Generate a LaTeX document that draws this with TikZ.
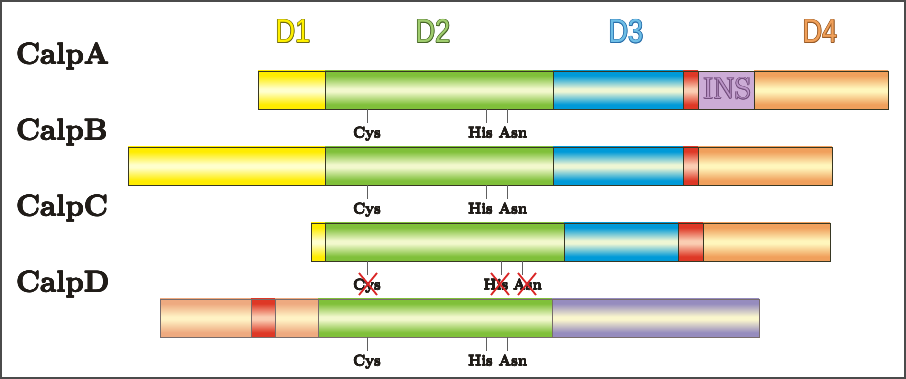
\documentclass[tikz,border=0pt]{standalone}
\usepackage{fontspec}
\usepackage{graphicx}
\newfontfamily\dfont{Liberation Sans}
\definecolor{ylw}{RGB}{255,236,0}
\definecolor{ylwL}{RGB}{255,255,205}
\definecolor{grn}{RGB}{128,192,58}
\definecolor{grnL}{RGB}{242,248,205}
\definecolor{blu}{RGB}{0,154,216}
\definecolor{bluL}{RGB}{238,246,212}
\definecolor{rd}{RGB}{222,56,38}
\definecolor{rdL}{RGB}{250,205,178}
\definecolor{org}{RGB}{240,160,92}
\definecolor{orgL}{RGB}{255,246,188}
\definecolor{pch}{RGB}{238,170,128}
\definecolor{pchL}{RGB}{255,242,196}
\definecolor{lav}{RGB}{150,140,190}
\definecolor{lavL}{RGB}{250,246,205}
\definecolor{insbox}{RGB}{204,172,214}
\definecolor{insfill}{RGB}{188,150,200}
\definecolor{insdark}{RGB}{115,78,125}
\definecolor{barline}{RGB}{55,55,35}
\definecolor{barlineD}{RGB}{120,108,108}
\definecolor{ink}{RGB}{32,28,24}
\definecolor{tickc}{RGB}{95,95,95}
\definecolor{crossc}{RGB}{218,38,38}
\definecolor{doneF}{RGB}{255,240,0}
\definecolor{doneD}{RGB}{110,105,20}
\definecolor{dtwoF}{RGB}{160,205,110}
\definecolor{dtwoD}{RGB}{70,100,40}
\definecolor{dthrF}{RGB}{110,190,230}
\definecolor{dthrD}{RGB}{40,110,170}
\definecolor{dfouF}{RGB}{240,160,90}
\definecolor{dfouD}{RGB}{150,90,40}
\newcommand\mkshade[3]{\pgfdeclareverticalshading{#1}{100bp}{color(0bp)=(#2); color(31bp)=(#2); color(48bp)=(#3); color(52bp)=(#3); color(69bp)=(#2); color(100bp)=(#2)}}
\mkshade{ylwS}{ylw}{ylwL}
\mkshade{grnS}{grn}{grnL}
\mkshade{bluS}{blu}{bluL}
\mkshade{rdS}{rd}{rdL}
\mkshade{orgS}{org}{orgL}
\mkshade{pchS}{pch}{pchL}
\mkshade{lavS}{lav}{lavL}
\newlength\olw
\setlength\olw{0.9pt}
\newcommand\olt[3]{%
  \leavevmode
  \rlap{\textcolor{#1}{\hspace*{\olw}#3}}%
  \rlap{\textcolor{#1}{\hspace*{-\olw}#3}}%
  \rlap{\textcolor{#1}{\raisebox{\olw}{#3}}}%
  \rlap{\textcolor{#1}{\raisebox{-\olw}{#3}}}%
  \rlap{\textcolor{#1}{\hspace*{0.7\olw}\raisebox{0.7\olw}{#3}}}%
  \rlap{\textcolor{#1}{\hspace*{-0.7\olw}\raisebox{0.7\olw}{#3}}}%
  \rlap{\textcolor{#1}{\hspace*{0.7\olw}\raisebox{-0.7\olw}{#3}}}%
  \rlap{\textcolor{#1}{\hspace*{-0.7\olw}\raisebox{-0.7\olw}{#3}}}%
  \textcolor{#2}{#3}}
\newcommand\heavy[2]{{\setlength\olw{#1}\olt{ink}{ink}{#2}}}
\newcommand\seg[4]{\shade[shading=#4, draw=barline, line width=0.9pt] (#1,#3) rectangle (#2,{#3+38});}
\newcommand\segD[4]{\shade[shading=#4, draw=barlineD, line width=0.9pt] (#1,#3) rectangle (#2,{#3+38});}
\begin{document}
\begin{tikzpicture}[x=1pt,y=-1pt,
  calp/.style={anchor=base west, text=ink, font=\fontsize{29.5}{29.5}\selectfont\bfseries, inner sep=0pt},
  res/.style={anchor=base, text=ink, font=\fontsize{15}{15}\selectfont\bfseries, inner sep=0pt},
  dlab/.style={anchor=base, inner sep=0pt, font=\fontsize{33}{33}\dfont},
  tick/.style={draw=tickc, line width=0.8pt},
  cross/.style={draw=crossc, line width=1.8pt}]
\useasboundingbox (0,0) rectangle (906,379);
\draw[line width=1.5pt, draw={rgb,255:red,75;green,75;blue,75}] (1,1) rectangle (905,378);
% domain headers
\node[dlab] (d1) at (293,43) {\scalebox{0.82}[1]{\olt{doneD}{doneF}{D1}}};
\node[dlab] (d2) at (433,43) {\scalebox{0.82}[1]{\olt{dtwoD}{dtwoF}{D2}}};
\node[dlab] (d3) at (626,43) {\scalebox{0.82}[1]{\olt{dthrD}{dthrF}{D3}}};
\node[dlab] (d4) at (820,43) {\scalebox{0.82}[1]{\olt{dfouD}{dfouF}{D4}}};
% protein names
\node[calp] (nA) at (16,64) {\heavy{0.4pt}{CalpA}};
\node[calp] (nB) at (16,140) {\heavy{0.4pt}{CalpB}};
\node[calp] (nC) at (16,216) {\heavy{0.4pt}{CalpC}};
\node[calp] (nD) at (16,292) {\heavy{0.4pt}{CalpD}};
% CalpA bar
\seg{258}{325}{71}{ylwS}
\seg{325}{553}{71}{grnS}
\seg{553}{683}{71}{bluS}
\seg{683}{698}{71}{rdS}
\filldraw[fill=insbox, draw=barline, line width=0.9pt] (698,71) rectangle (754,109);
\seg{754}{888}{71}{orgS}
\node[anchor=base, inner sep=0pt, font=\fontsize{30}{30}\selectfont] (ins) at (727,99) {\scalebox{1.04}[1]{\olt{insdark}{insfill}{INS}}};
% CalpB bar
\seg{128}{325}{147}{ylwS}
\seg{325}{553}{147}{grnS}
\seg{553}{683}{147}{bluS}
\seg{683}{698}{147}{rdS}
\seg{698}{832}{147}{orgS}
% CalpC bar
\seg{311}{325}{223}{ylwS}
\seg{325}{564}{223}{grnS}
\seg{564}{678}{223}{bluS}
\seg{678}{703}{223}{rdS}
\seg{703}{830}{223}{orgS}
% CalpD bar
\segD{160}{251}{299}{pchS}
\segD{251}{275}{299}{rdS}
\segD{275}{318}{299}{pchS}
\segD{318}{552}{299}{grnS}
\segD{552}{759}{299}{lavS}
% residues under CalpA
\draw[tick] (367,109) -- (367,123);
\draw[tick] (486,109) -- (486,123);
\draw[tick] (507,109) -- (507,123);
\node[res] (cA) at (367,138) {\heavy{0.17pt}{Cys}};
\node[res] (hA) at (480.5,138) {\heavy{0.17pt}{His}};
\node[res] (aA) at (513,138) {\heavy{0.17pt}{Asn}};
% residues under CalpB
\draw[tick] (367,185) -- (367,199);
\draw[tick] (486,185) -- (486,199);
\draw[tick] (507,185) -- (507,199);
\node[res] (cB) at (367,214) {\heavy{0.17pt}{Cys}};
\node[res] (hB) at (480.5,214) {\heavy{0.17pt}{His}};
\node[res] (aB) at (513,214) {\heavy{0.17pt}{Asn}};
% residues under CalpC (lost)
\draw[tick] (367,261) -- (367,275);
\draw[tick] (501,261) -- (501,275);
\draw[tick] (522,261) -- (522,275);
\node[res] (cC) at (367,290) {\heavy{0.17pt}{Cys}};
\node[res] (hC) at (496,290) {\heavy{0.17pt}{His}};
\node[res] (aC) at (527.5,290) {\heavy{0.17pt}{Asn}};
\draw[cross] (359,273) -- (377,295) (377,273) -- (359,295);
\draw[cross] (491,273) -- (509,295) (509,273) -- (491,295);
\draw[cross] (518,273) -- (536,295) (536,273) -- (518,295);
% residues under CalpD
\draw[tick] (367,337) -- (367,351);
\draw[tick] (486,337) -- (486,351);
\draw[tick] (507,337) -- (507,351);
\node[res] (cD) at (367,366) {\heavy{0.17pt}{Cys}};
\node[res] (hD) at (480.5,366) {\heavy{0.17pt}{His}};
\node[res] (aD) at (513,366) {\heavy{0.17pt}{Asn}};
\end{tikzpicture}
\end{document}
